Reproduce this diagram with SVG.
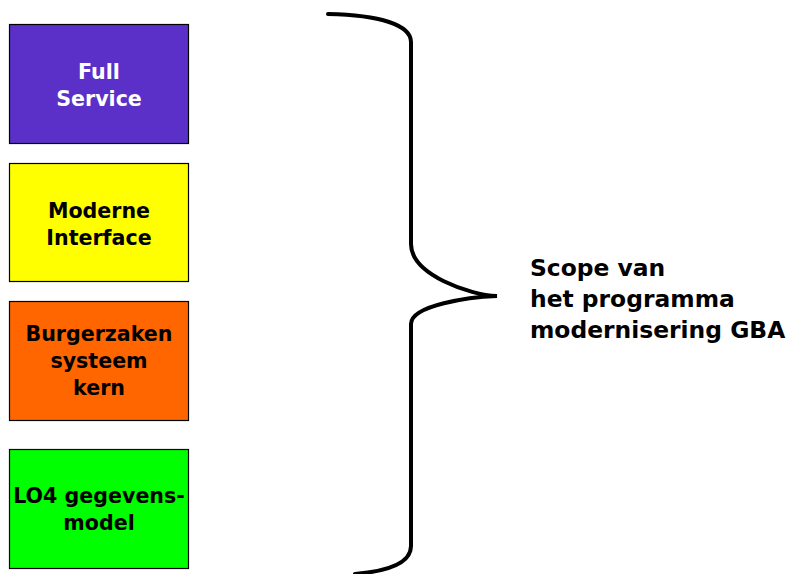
<svg xmlns="http://www.w3.org/2000/svg" width="790" height="574" viewBox="0 0 790 574">
<style>
.box{stroke:#000;stroke-width:1.2}
.t{font-family:"DejaVu Sans","Verdana",sans-serif;font-weight:bold;font-size:20.6px;text-anchor:middle}
.s{font-family:"DejaVu Sans","Verdana",sans-serif;font-weight:bold;font-size:23.4px}
</style>
<rect width="790" height="574" fill="#fff"/>
<g id="full-service">
<rect class="box" x="9.5" y="24.5" width="179" height="119" fill="#5B30C8"/>
<text class="t" fill="#fff"><tspan x="99" y="79">Full</tspan><tspan x="99" y="106">Service</tspan></text>
</g>
<g id="moderne-interface">
<rect class="box" x="9.5" y="163.5" width="179" height="118" fill="#FFFF00"/>
<text class="t" fill="#000"><tspan x="99" y="218">Moderne</tspan><tspan x="99" y="245">Interface</tspan></text>
</g>
<g id="burgerzaken">
<rect class="box" x="9.5" y="301.5" width="179" height="119" fill="#FF6600"/>
<text class="t" fill="#000"><tspan x="99" y="341">Burgerzaken</tspan><tspan x="99" y="368">systeem</tspan><tspan x="99" y="395">kern</tspan></text>
</g>
<g id="lo4">
<rect class="box" x="9.5" y="449.5" width="179" height="119" fill="#00FF00"/>
<text class="t" fill="#000"><tspan x="99" y="503">LO4 gegevens-</tspan><tspan x="99" y="530">model</tspan></text>
</g>
<g id="connectors">
<path d="M328,14 C380,15 411,25 411,42 L411,244 C411,275 470,295 497,296 C470,297 411,305 411,324 L411,546 C411,562 390,571 355,574" fill="none" stroke="#000" stroke-width="4" stroke-linecap="round"/>
</g>
<g id="scope">
<text class="s" fill="#000"><tspan x="530" y="276">Scope van</tspan><tspan x="530" y="307">het programma</tspan><tspan x="530" y="338">modernisering GBA</tspan></text>
</g>
</svg>
